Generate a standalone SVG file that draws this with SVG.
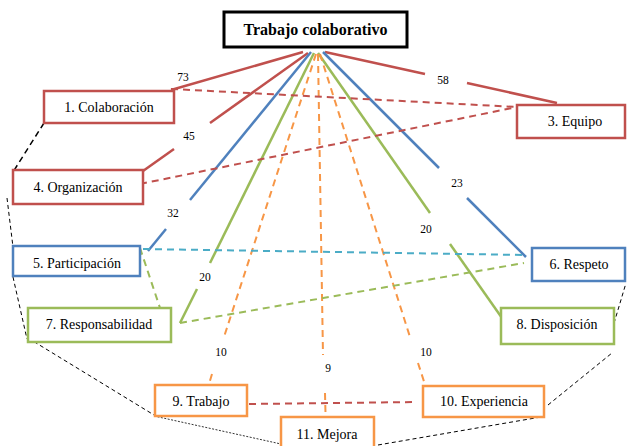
<svg xmlns="http://www.w3.org/2000/svg" width="627" height="446" viewBox="0 0 627 446">
<style>
.box{fill:#fff;stroke-width:2.5}
.r{stroke:#C0504D}.b{stroke:#4F81BD}.g{stroke:#9BBB59}.o{stroke:#F79646}.c{stroke:#4BACC6}.k{stroke:#000}
.t{font-family:"Liberation Serif","DejaVu Serif",serif;font-size:14px;fill:#000;text-anchor:middle}
.n{font-family:"Liberation Serif","DejaVu Serif",serif;font-size:11.5px;fill:#000;text-anchor:middle}
.s{fill:none;stroke-width:2.5}
.d{fill:none;stroke-width:2;stroke-dasharray:7 5}
.ko{fill:none;stroke-width:1.5;stroke-dasharray:6 4}
.kt{fill:none;stroke-width:1;stroke-dasharray:4 3}
.kd{fill:none;stroke-width:0.8;stroke-dasharray:2 1.5}
</style>
<rect width="627" height="446" fill="#fff"/>
<g id="connectors">
  <line class="s r" x1="303" y1="52" x2="171" y2="90"/>
  <line class="s r" x1="308" y1="53" x2="210" y2="123"/>
  <line class="s r" x1="174" y1="149" x2="143" y2="171"/>
  <line class="s b" x1="311" y1="52" x2="190" y2="200"/>
  <line class="s b" x1="166" y1="229" x2="148" y2="251"/>
  <line class="s g" x1="314" y1="53" x2="210" y2="263"/>
  <line class="s g" x1="197" y1="289" x2="180" y2="323"/>
  <line class="s r" x1="325" y1="52" x2="425" y2="74"/>
  <line class="s r" x1="467" y1="83" x2="557" y2="103"/>
  <line class="s b" x1="323" y1="52" x2="439" y2="168"/>
  <line class="s b" x1="467" y1="198" x2="526" y2="257"/>
  <line class="s g" x1="318" y1="53" x2="430" y2="213"/>
  <line class="s g" x1="450" y1="244" x2="502" y2="318"/>
  <line class="d o" x1="316" y1="54" x2="224" y2="337"/>
  <line class="d o" x1="212" y1="374" x2="206" y2="394"/>
  <line class="d o" x1="318" y1="54" x2="323" y2="355"/>
  <line class="d o" x1="325" y1="393" x2="326" y2="434"/>
  <line class="d o" x1="320" y1="54" x2="410" y2="337"/>
  <line class="d o" x1="418" y1="363" x2="431" y2="403"/>
  <line class="d r" x1="171" y1="89" x2="517" y2="107"/>
  <line class="d r" x1="140" y1="184" x2="517" y2="107"/>
  <line class="d c" x1="143" y1="249" x2="526" y2="255"/>
  <line class="d g" x1="140" y1="248" x2="168" y2="332"/>
  <line class="d g" x1="180" y1="323" x2="524" y2="263"/>
  <line class="d r" x1="249" y1="404" x2="417" y2="402"/>
  <line class="ko k" x1="44" y1="123" x2="13" y2="172"/>
  <line class="kt k" x1="7" y1="198" x2="13" y2="247"/>
  <line class="kt k" x1="13" y1="277" x2="27" y2="339"/>
  <line class="kt k" x1="28" y1="338" x2="154" y2="415"/>
  <line class="kd k" x1="154" y1="416" x2="281" y2="444"/>
  <line class="kt k" x1="378" y1="445" x2="541" y2="417"/>
  <line class="kt k" x1="548" y1="405" x2="612" y2="353"/>
  <line class="kt k" x1="612" y1="330" x2="626" y2="283"/>
</g>
<g id="labels">
  <text class="n" x="183" y="81">73</text>
  <text class="n" x="189" y="140">45</text>
  <text class="n" x="173" y="217">32</text>
  <text class="n" x="205" y="281">20</text>
  <text class="n" x="221" y="356">10</text>
  <text class="n" x="328" y="372">9</text>
  <text class="n" x="426" y="356">10</text>
  <text class="n" x="426" y="233">20</text>
  <text class="n" x="457" y="187">23</text>
  <text class="n" x="443" y="84">58</text>
</g>
<g id="n0">
  <rect x="224" y="12" width="183" height="35" fill="#fff" stroke="#000" stroke-width="3"/>
  <text x="315.5" y="35" font-family="'Liberation Serif','DejaVu Serif',serif" font-size="16" font-weight="bold" text-anchor="middle">Trabajo colaborativo</text>
</g>
<g id="n1"><rect class="box r" x="44" y="91" width="130" height="32"/><text class="t" x="109" y="112">1. Colaboración</text></g>
<g id="n3"><rect class="box r" x="517" y="105" width="108" height="33"/><text class="t" x="575" y="126">3. Equipo</text></g>
<g id="n4"><rect class="box r" x="13" y="170" width="130" height="34"/><text class="t" x="78" y="192">4. Organización</text></g>
<g id="n5"><rect class="box b" x="13" y="246" width="127" height="30"/><text class="t" x="77" y="268">5. Participación</text></g>
<g id="n6"><rect class="box b" x="532" y="248" width="93" height="33"/><text class="t" x="579" y="269">6. Respeto</text></g>
<g id="n7"><rect class="box g" x="28" y="308" width="143" height="34"/><text class="t" x="99" y="329">7. Responsabilidad</text></g>
<g id="n8"><rect class="box g" x="501" y="308" width="113" height="36"/><text class="t" x="557" y="329">8. Disposición</text></g>
<g id="n9"><rect class="box o" x="155" y="385" width="92" height="31"/><text class="t" x="201" y="406">9. Trabajo</text></g>
<g id="n10"><rect class="box o" x="423" y="386" width="121" height="31"/><text class="t" x="484" y="406">10. Experiencia</text></g>
<g id="n11"><rect class="box o" x="281" y="417" width="93" height="34"/><text class="t" x="327" y="439">11. Mejora</text></g>
</svg>
